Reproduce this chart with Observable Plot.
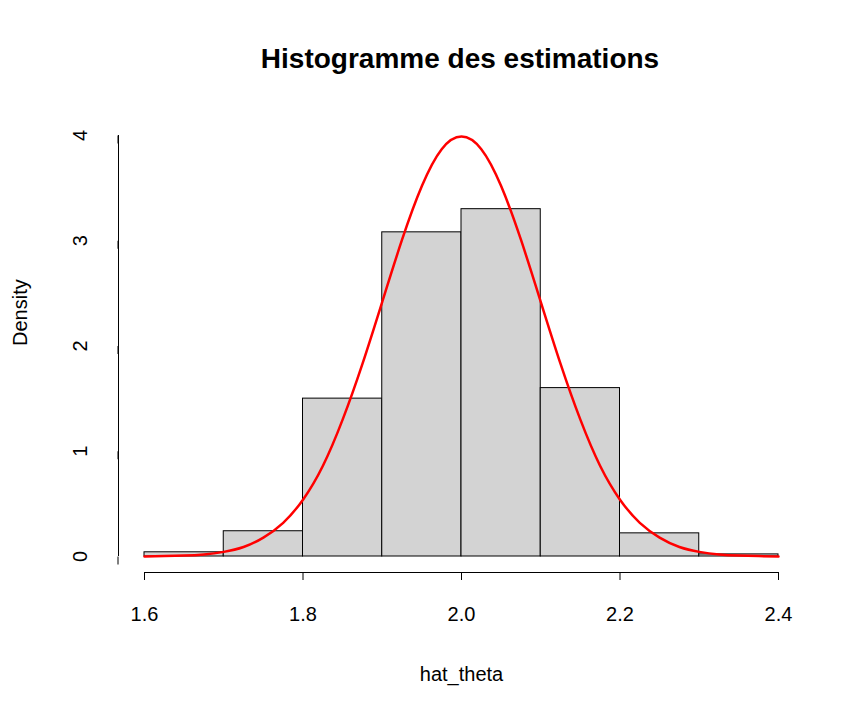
<!DOCTYPE html>
<html>
<head>
<meta charset="utf-8">
<script src="https://cdn.jsdelivr.net/npm/d3@7"></script>
<script src="https://cdn.jsdelivr.net/npm/@observablehq/plot@0.6"></script>
<style>
  body { margin: 0; background: #fff; font-family: "Liberation Sans", Arial, sans-serif; }
  #title { height: 90px; width: 864px; box-sizing: border-box; padding-top: 42px; padding-left: 56px;
           text-align: center; font-weight: bold; font-size: 28px; line-height: 34px; }
</style>
</head>
<body>
<div id="title">Histogramme des estimations</div>
<div id="chart"></div>
<script>
// histogram bins (lower edges, upper edges) and densities
const binStart = [1.6, 1.7, 1.8, 1.9, 2.0, 2.1, 2.2, 2.3];
const binEnd   = [1.7, 1.8, 1.9, 2.0, 2.1, 2.2, 2.3, 2.4];
const density  = [0.04, 0.24, 1.50, 3.08, 3.30, 1.60, 0.22, 0.02];

// red curve
const curveX = [1.6, 1.625, 1.65, 1.675, 1.7, 1.725, 1.75, 1.775, 1.8, 1.825, 1.85, 1.875, 1.9, 1.925, 1.95, 1.975, 2.0,
                2.025, 2.05, 2.075, 2.1, 2.125, 2.15, 2.175, 2.2, 2.225, 2.25, 2.275, 2.3, 2.325, 2.35, 2.375, 2.4];
const curveY = [0.001, 0.004, 0.009, 0.02, 0.044, 0.09, 0.18, 0.32, 0.54, 0.86, 1.30, 1.83, 2.42, 3.01, 3.52, 3.87, 3.99,
                3.87, 3.52, 3.01, 2.42, 1.83, 1.30, 0.86, 0.54, 0.32, 0.18, 0.09, 0.044, 0.02, 0.009, 0.004, 0.001];

const xTicks = [1.6, 1.8, 2.0, 2.2, 2.4];
const yTicks = [0, 1, 2, 3, 4];

const bins = binStart.map((s, i) => ({x1: s, x2: binEnd[i], y: density[i]}));
const curve = curveX.map((x, i) => ({x, y: curveY[i]}));

const chart = Plot.plot({
  width: 864,
  height: 630,
  marginLeft: 144,
  marginRight: 86,
  marginTop: 45,
  marginBottom: 164,
  style: {fontFamily: "Liberation Sans, Arial, sans-serif", fontSize: "20px", color: "#000"},
  x: {domain: [1.6, 2.4], axis: null},
  y: {domain: [0, 4], axis: null},
  marks: [
    Plot.rectY(bins, {x1: "x1", x2: "x2", y: "y", fill: "#d3d3d3", stroke: "#000", strokeWidth: 1}),
    Plot.line(curve, {x: "x", y: "y", stroke: "#ff0000", strokeWidth: 2.5, curve: "natural"}),
    // axis lines, offset from the data like R does
    Plot.ruleY([0], {x1: xTicks[0], x2: xTicks[xTicks.length - 1], dy: 16, stroke: "#000"}),
    Plot.ruleX([1.6], {y1: yTicks[0], y2: yTicks[yTicks.length - 1], dx: -26, stroke: "#000"}),
    Plot.axisX(xTicks, {anchor: "bottom", dy: 16, tickSize: 8, tickPadding: 26,
      tickFormat: d => d.toFixed(1), fontSize: 20, label: null}),
    Plot.axisY(yTicks, {anchor: "left", dx: -26, tickSize: 8, tickPadding: 30,
      tickFormat: d => String(d), rotate: -90, textAnchor: "middle", fontSize: 20, label: null}),
    Plot.text(["hat_theta"], {frameAnchor: "bottom", dy: 124, fontSize: 20}),
    Plot.text(["Density"], {frameAnchor: "left", dx: -124, rotate: -90, fontSize: 20})
  ]
});

document.getElementById("chart").append(chart);
</script>
</body>
</html>
